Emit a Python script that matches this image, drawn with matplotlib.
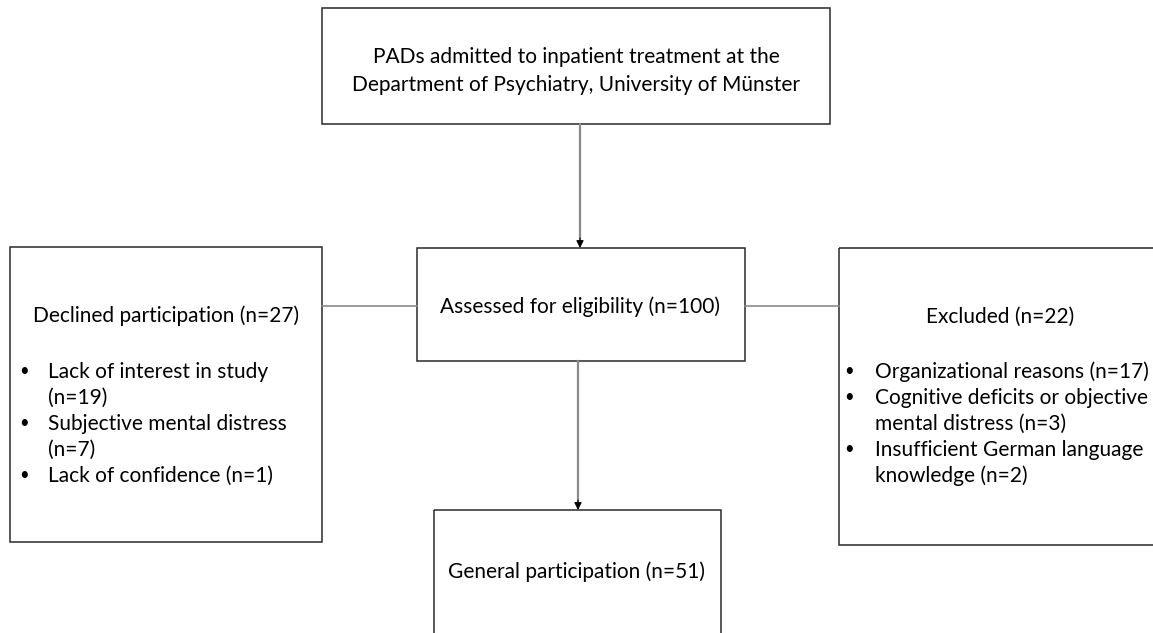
import matplotlib.pyplot as plt
from matplotlib.patches import Rectangle

plt.rcParams["font.family"] = ["Lato", "DejaVu Sans"]

# text content of the flow chart
top_lines = ["PADs admitted to inpatient treatment at the",
             "Department of Psychiatry, University of Münster"]
assessed_text = "Assessed for eligibility (n=100)"
declined_title = "Declined participation (n=27)"
declined_items = [["Lack of interest in study", "(n=19)"],
                  ["Subjective mental distress", "(n=7)"],
                  ["Lack of confidence (n=1)"]]
excluded_title = "Excluded (n=22)"
excluded_items = [["Organizational reasons (n=17)"],
                  ["Cognitive deficits or objective", "mental distress (n=3)"],
                  ["Insufficient German language", "knowledge (n=2)"]]
final_text = "General participation (n=51)"

FS = 15
EDGE = "#2a2a2a"
LINE = "#8a8a8a"
BASE = 6  # centre -> baseline offset in pixels

fig = plt.figure(figsize=(11.53, 6.33), dpi=100)
ax = fig.add_axes([0, 0, 1, 1])
ax.set_xlim(0, 1153)
ax.set_ylim(633, 0)
ax.axis("off")


def box(x0, y0, x1, y1):
    ax.add_patch(Rectangle((x0, y0), x1 - x0, y1 - y0, fill=False,
                           edgecolor=EDGE, linewidth=1.1, clip_on=True))


def arrow(x, y0, y1):
    # grey shaft, small black head
    ax.plot([x, x], [y0, y1 - 4], color=LINE, lw=1.6)
    ax.annotate("", xy=(x, y1), xytext=(x, y1 - 10),
                arrowprops=dict(arrowstyle="-|>", color="black", lw=0.8,
                                mutation_scale=11, shrinkA=0, shrinkB=0))


def label(x, y, s, ha="center"):
    ax.text(x, y + BASE, s, fontsize=FS, ha=ha, va="baseline")


def bullets(items, xb, xt, y0, step=26):
    y = y0
    for item in items:
        ax.text(xb + 1, y + 4, "•", fontsize=FS - 3, va="baseline", ha="left")
        for line in item:
            label(xt, y, line, ha="left")
            y += step


# boxes
box(322, 8, 830, 124)
box(417, 248, 745, 361)
box(10, 247, 322, 542)
box(839, 248, 1160, 545)
box(434, 510, 721, 650)

# connectors
arrow(580, 124, 248)
arrow(578, 361, 510)
ax.plot([322, 417], [306, 306], color=LINE, lw=1.2)
ax.plot([745, 839], [306, 306], color=LINE, lw=1.2)

# texts
label(576, 57, top_lines[0])
label(576, 85, top_lines[1])
label(580, 307, assessed_text)
label(166, 316, declined_title)
bullets(declined_items, 18, 48, 372)
label(1000, 317, excluded_title)
bullets(excluded_items, 843, 875, 372)
label(577, 572, final_text)

fig.savefig("out.png", dpi=100, facecolor="white")
